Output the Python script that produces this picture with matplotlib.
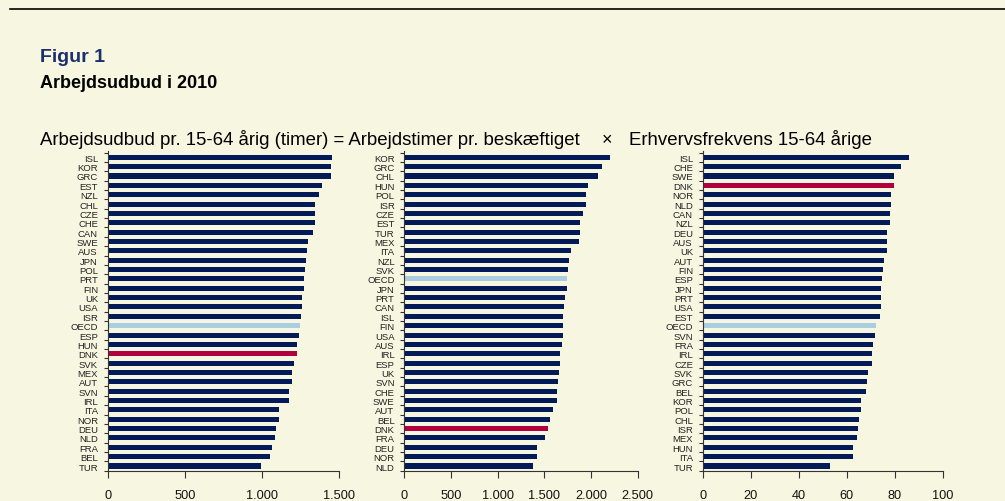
import numpy as np
import matplotlib
matplotlib.use("Agg")
import matplotlib.pyplot as plt

plt.rcParams['font.family'] = ['Liberation Sans', 'DejaVu Sans']

# panel 1: Arbejdsudbud pr. 15-64 aarig (timer), top to bottom
lab1 = ['ISL', 'KOR', 'GRC', 'EST', 'NZL', 'CHL', 'CZE', 'CHE', 'CAN', 'SWE', 'AUS', 'JPN',
        'POL', 'PRT', 'FIN', 'UK', 'USA', 'ISR', 'OECD', 'ESP', 'HUN', 'DNK', 'SVK', 'MEX',
        'AUT', 'SVN', 'IRL', 'ITA', 'NOR', 'DEU', 'NLD', 'FRA', 'BEL', 'TUR']
val1 = [1453, 1446, 1446, 1388, 1369, 1343, 1343, 1343, 1330, 1298, 1291, 1285,
        1278, 1272, 1272, 1259, 1259, 1252, 1246, 1239, 1226, 1226, 1207, 1194,
        1194, 1175, 1175, 1110, 1110, 1091, 1084, 1065, 1052, 993]

# panel 2: Arbejdstimer pr. beskaeftiget
lab2 = ['KOR', 'GRC', 'CHL', 'HUN', 'POL', 'ISR', 'CZE', 'EST', 'TUR', 'MEX', 'ITA', 'NZL',
        'SVK', 'OECD', 'JPN', 'PRT', 'CAN', 'ISL', 'FIN', 'USA', 'AUS', 'IRL', 'ESP', 'UK',
        'SVN', 'CHE', 'SWE', 'AUT', 'BEL', 'DNK', 'FRA', 'DEU', 'NOR', 'NLD']
val2 = [2204, 2118, 2075, 1968, 1947, 1947, 1915, 1883, 1883, 1872, 1786, 1765,
        1754, 1743, 1743, 1722, 1711, 1700, 1700, 1700, 1690, 1668, 1668, 1657,
        1647, 1636, 1636, 1593, 1561, 1540, 1508, 1422, 1422, 1379]

# panel 3: Erhvervsfrekvens 15-64 aarige
lab3 = ['ISL', 'CHE', 'SWE', 'DNK', 'NOR', 'NLD', 'CAN', 'NZL', 'DEU', 'AUS', 'UK', 'AUT',
        'FIN', 'ESP', 'JPN', 'PRT', 'USA', 'EST', 'OECD', 'SVN', 'FRA', 'IRL', 'CZE', 'SVK',
        'GRC', 'BEL', 'KOR', 'POL', 'CHL', 'ISR', 'MEX', 'HUN', 'ITA', 'TUR']
val3 = [86.0, 82.6, 79.7, 79.7, 78.5, 78.5, 78.1, 78.1, 76.8, 76.8, 76.8, 75.5,
        75.1, 74.7, 74.3, 74.3, 74.3, 73.9, 72.2, 71.8, 71.0, 70.5, 70.5, 68.9,
        68.5, 68.0, 66.0, 66.0, 65.1, 64.7, 64.3, 62.6, 62.6, 53.0]

xticks1 = [0, 500, 1000, 1500]
xticks2 = [0, 500, 1000, 1500, 2000, 2500]
xticks3 = [0, 20, 40, 60, 80, 100]

bg = '#F7F6E1'
navy = '#021A57'
red = '#B0003F'
light = '#A9CDE1'

W, H = 1005, 502
fig = plt.figure(figsize=(W / 100, H / 100), dpi=100, facecolor=bg)

# top rule
fig.add_artist(matplotlib.lines.Line2D([10 / W, 1], [1 - 10 / H, 1 - 10 / H],
                                       color='black', lw=1.2))

fig.text(40 / W, 1 - 61.5 / H, 'Figur 1', color='#1B2F6E', fontsize=14,
         fontweight='bold', va='baseline')
fig.text(40 / W, 1 - 88 / H, 'Arbejdsudbud i 2010', color='black', fontsize=13,
         fontweight='bold', va='baseline')
fig.text(40 / W, 1 - 145 / H, 'Arbejdsudbud pr. 15-64 årig (timer) = Arbejdstimer pr. beskæftiget',
         fontsize=13.4, va='baseline')
fig.text(606.5 / W, 1 - 145 / H, '×', fontsize=13, va='baseline', ha='center')
fig.text(629 / W, 1 - 145 / H, 'Erhvervsfrekvens 15-64 årige', fontsize=13.4, va='baseline')


def fmt(v):
    return '{:,}'.format(v).replace(',', '.')


def panel(x0, x1, labels, values, xticks):
    top, bottom = 152, 471.7
    ax = fig.add_axes([x0 / W, 1 - bottom / H, (x1 - x0) / W, (bottom - top) / H])
    ax.set_facecolor(bg)
    n = len(labels)
    y = np.arange(n)[::-1]
    colors = []
    for lab in labels:
        if lab == 'DNK':
            colors.append(red)
        elif lab == 'OECD':
            colors.append(light)
        else:
            colors.append(navy)
    ax.barh(y, values, height=0.54, color=colors)
    ax.set_xlim(xticks[0], xticks[-1])
    ax.set_ylim(-0.47, n - 0.33)
    ax.set_yticks(y)
    ax.set_yticklabels(labels, fontsize=6.8, color='#222222')
    ax.tick_params(axis='y', which='major', length=0, pad=7)
    ax.set_yticks(np.arange(-0.5, n, 1), minor=True)
    ax.tick_params(axis='y', which='minor', length=3, width=0.8, color='#333333')
    ax.set_xticks(xticks)
    ax.set_xticklabels([fmt(t) for t in xticks], fontsize=9.2, color='#111111')
    ax.tick_params(axis='x', length=5, width=0.8, color='#333333', pad=8)
    for s in ['top', 'right']:
        ax.spines[s].set_visible(False)
    for s in ['left', 'bottom']:
        ax.spines[s].set_color('#333333')
        ax.spines[s].set_linewidth(0.8)
    return ax


panel(107.7, 339.3, lab1, val1, xticks1)
panel(404.3, 637.7, lab2, val2, xticks2)
panel(702.7, 942.7, lab3, val3, xticks3)

fig.savefig('out.png', dpi=100, facecolor=bg)
